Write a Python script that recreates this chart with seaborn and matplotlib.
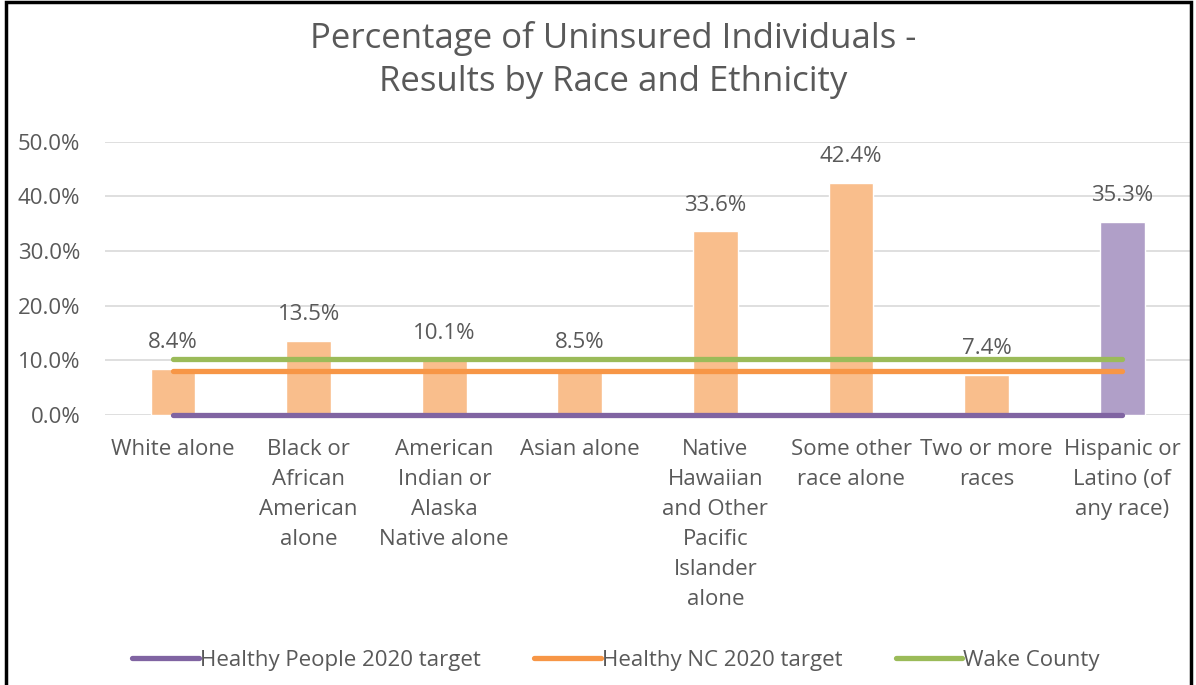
import matplotlib
matplotlib.use("Agg")
import matplotlib.pyplot as plt
import seaborn as sns
import numpy as np
import pandas as pd
from matplotlib.patches import Rectangle
from matplotlib.lines import Line2D
from matplotlib.ticker import FuncFormatter

categories = ["White alone", "Black or\nAfrican\nAmerican\nalone", "American\nIndian or\nAlaska\nNative alone",
              "Asian alone", "Native\nHawaiian\nand Other\nPacific\nIslander\nalone", "Some other\nrace alone",
              "Two or more\nraces", "Hispanic or\nLatino (of\nany race)"]
values = [8.4, 13.5, 10.1, 8.5, 33.6, 42.4, 7.4, 35.3]
groups = ["race"] * 7 + ["hispanic"]
hp2020_target = [0.0] * 8
nc2020_target = [8.0] * 8
wake_county = [10.3] * 8
series_names = ["Healthy People 2020 target", "Healthy NC 2020 target", "Wake County"]

sns.set_theme(style="white")
plt.rcParams["font.family"] = ["Open Sans", "DejaVu Sans"]
text_color = "#595959"
fs = 16

fig = plt.figure(figsize=(11.96, 6.85), dpi=100)
ax = fig.add_axes([0.088, 0.394, 0.907, 0.399])

df = pd.DataFrame({"cat": categories, "val": values, "grp": groups})
sns.barplot(data=df, x="cat", y="val", hue="grp", palette={"race": "#F9BE8C", "hispanic": "#B09FC8"},
            dodge=False, width=0.33, saturation=1, ax=ax, legend=False, zorder=2)

xs = np.arange(len(categories))
line_colors = ["#8064A2", "#F79646", "#9BBB59"]
for ys, col, name in zip([hp2020_target, nc2020_target, wake_county], line_colors, series_names):
    sns.lineplot(x=xs, y=ys, color=col, linewidth=3.8, ax=ax, zorder=3,
                 solid_capstyle="round", clip_on=False)

for x, v in zip(xs, values):
    ax.annotate(f"{v:.1f}%", (x, v), xytext=(0, 19), textcoords="offset points",
                ha="center", va="center", fontsize=fs, color=text_color, zorder=4)

ax.set_ylim(0, 50)
ax.set_xlim(-0.5, len(categories) - 0.5)
ax.set_yticks(np.arange(0, 51, 10))
ax.yaxis.set_major_formatter(FuncFormatter(lambda v, p: f"{v:.1f}%"))
ax.grid(axis="y", color="#D9D9D9", linewidth=1.2, zorder=0)
ax.set_axisbelow(True)
for s in ax.spines.values():
    s.set_visible(False)
ax.set_xlabel("")
ax.set_ylabel("")
ax.tick_params(axis="y", labelsize=fs, labelcolor=text_color, length=0, pad=18)
ax.tick_params(axis="x", labelsize=fs, labelcolor=text_color, length=0, pad=17)
for lbl in ax.get_xticklabels():
    lbl.set_linespacing(1.57)
    lbl.set_verticalalignment("top")

fig.text(0.513, 0.912, "Percentage of Uninsured Individuals -\nResults by Race and Ethnicity",
         ha="center", va="center", fontsize=25, color=text_color, linespacing=1.35)

handles = [Line2D([0], [0], color=c, linewidth=3.8, solid_capstyle="round") for c in line_colors]
fig.legend(handles, series_names, loc="center", bbox_to_anchor=(0.515, 0.036), ncol=3, frameon=False,
           fontsize=fs, labelcolor=text_color, handlelength=3.0, handletextpad=0.05, columnspacing=2.4)

fig.patches.append(Rectangle((0.005, -0.02), 0.991, 1.017, transform=fig.transFigure, fill=False,
                             edgecolor="black", linewidth=2.5))

fig.savefig("out.png", dpi=100)
